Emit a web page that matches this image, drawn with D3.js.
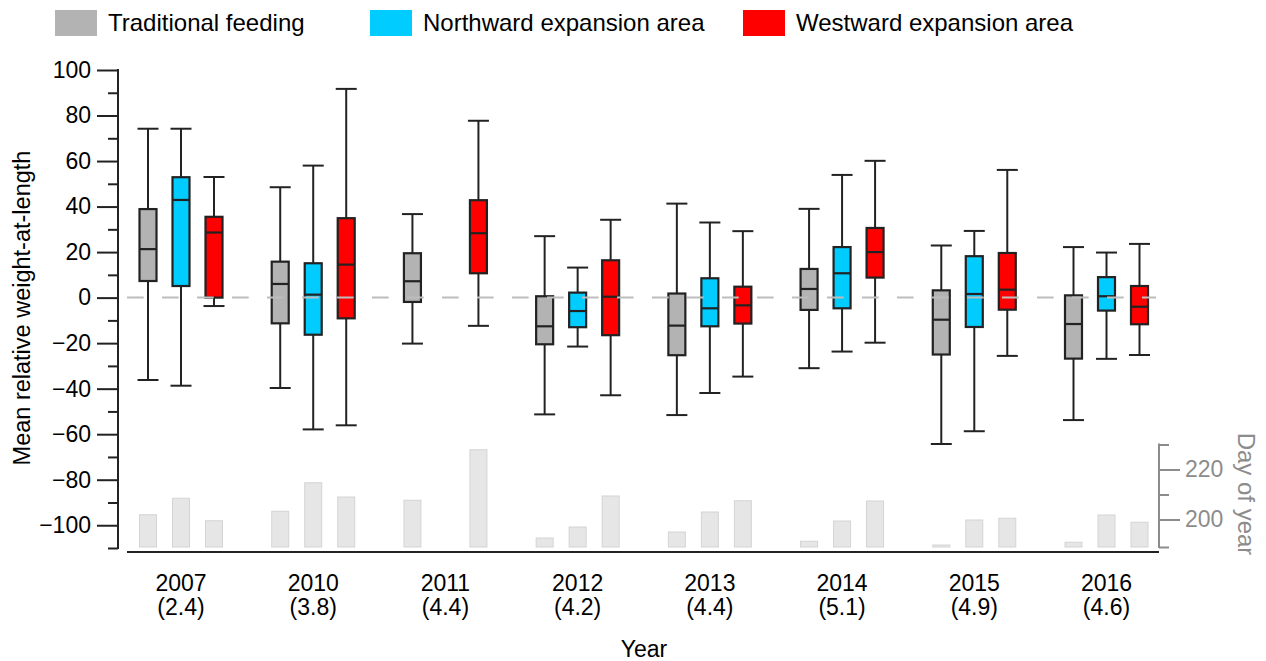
<!DOCTYPE html>
<html>
<head>
<meta charset="utf-8">
<script src="https://cdn.jsdelivr.net/npm/d3@7"></script>
<style>
  body { margin: 0; background: #fff; }
  svg text { font-family: Arial, "Liberation Sans", sans-serif; }
</style>
</head>
<body>
<div id="chart"></div>
<script>

// Data
var years = ["2007", "2010", "2011", "2012", "2013", "2014", "2015", "2016"];
var sampleLabels = ["(2.4)", "(3.8)", "(4.4)", "(4.2)", "(4.4)", "(5.1)", "(4.9)", "(4.6)"];
var areas = ["Traditional feeding", "Northward expansion area", "Westward expansion area"];
var areaColors = ["#b3b3b3", "#00ccff", "#ff0000"];

// box stats per year: [lower whisker, q1, median, q3, upper whisker]
var traditional = [
    [-36.2, 7.3, 21.3, 38.9, 74.2],
    [-39.7, -11.3, 6.0, 15.8, 48.5],
    [-20.2, -1.9, 7.2, 19.5, 36.7],
    [-51.3, -20.5, -12.6, 0.6, 27.0],
    [-51.6, -25.3, -12.3, 1.8, 41.3],
    [-31.0, -5.4, 3.8, 12.6, 39.0],
    [-64.3, -25.0, -9.7, 3.2, 22.9],
    [-53.8, -26.8, -11.6, 1.0, 22.2]
];
var northward = [
    [-38.7, 5.1, 42.9, 52.9, 74.2],
    [-57.9, -16.3, 1.3, 15.1, 58.0],
    null,
    [-21.5, -13.0, -5.9, 2.2, 13.2],
    [-41.9, -12.6, -4.7, 8.5, 33.0],
    [-23.7, -4.7, 10.7, 22.2, 53.9],
    [-58.7, -12.9, 1.6, 18.2, 29.3],
    [-26.9, -5.7, 0.6, 9.0, 19.8]
];
var westward = [
    [-3.7, 0.0, 28.6, 35.5, 53.0],
    [-56.1, -9.1, 14.5, 34.9, 91.7],
    [-12.4, 10.7, 28.3, 42.8, 77.7],
    [-42.9, -16.5, 0.4, 16.4, 34.2],
    [-34.7, -11.4, -3.4, 4.8, 29.2],
    [-19.8, 8.8, 20.0, 30.6, 60.1],
    [-25.6, -5.3, 3.5, 19.6, 56.1],
    [-25.2, -11.7, -4.0, 5.1, 23.6]
];

// mean day of year of sampling (grey bars, right axis)
var dayTraditional = [201.9, 203.3, 207.7, 192.6, 195.0, 191.3, 189.8, 190.9];
var dayNorthward = [208.5, 214.7, null, 197.0, 203.0, 199.4, 199.8, 201.8];
var dayWestward = [199.5, 209.0, 227.9, 209.4, 207.5, 207.4, 200.5, 198.9];

var boxSeries = [traditional, northward, westward];
var daySeries = [dayTraditional, dayNorthward, dayWestward];

var width = 1266, height = 661;
var ink = "#222";

var svg = d3.select("#chart").append("svg")
    .attr("width", width)
    .attr("height", height);

// Scales
var x = d3.scalePoint()
    .domain(years)
    .range([181, 1106.5]);

var sub = d3.scalePoint()
    .domain(d3.range(areas.length))
    .range([-33, 33]);

var y = d3.scaleLinear()
    .domain([-110, 100])
    .range([548, 70]);

var yDay = d3.scaleLinear()
    .domain([189, 230])
    .range([547, 444.5]);

// Day-of-year bars
var barW = 17;
daySeries.forEach(function(series, s) {
    svg.append("g").selectAll("rect")
        .data(series.map(function(v, i) { return {year: years[i], v: v}; })
            .filter(function(d) { return d.v != null; }))
        .enter().append("rect")
        .attr("x", function(d) { return x(d.year) + sub(s) - barW / 2; })
        .attr("y", function(d) { return yDay(d.v); })
        .attr("width", barW)
        .attr("height", function(d) { return yDay(189) - yDay(d.v); })
        .attr("fill", "#e6e6e6")
        .attr("stroke", "#d4d4d4")
        .attr("stroke-width", 1);
});

// Boxes
var boxW = 17, capW = 21;
boxSeries.forEach(function(series, s) {
    var g = svg.append("g").selectAll("g")
        .data(series.map(function(b, i) { return {year: years[i], b: b}; })
            .filter(function(d) { return d.b != null; }))
        .enter().append("g")
        .attr("transform", function(d) { return "translate(" + (x(d.year) + sub(s)) + ",0)"; });

    g.append("line")
        .attr("x1", 0).attr("x2", 0)
        .attr("y1", function(d) { return y(d.b[0]); })
        .attr("y2", function(d) { return y(d.b[4]); })
        .attr("stroke", ink).attr("stroke-width", 2);

    g.selectAll(".cap")
        .data(function(d) { return [d.b[0], d.b[4]]; })
        .enter().append("line")
        .attr("class", "cap")
        .attr("x1", -capW / 2).attr("x2", capW / 2)
        .attr("y1", function(v) { return y(v); })
        .attr("y2", function(v) { return y(v); })
        .attr("stroke", ink).attr("stroke-width", 2);

    g.append("rect")
        .attr("x", -boxW / 2)
        .attr("width", boxW)
        .attr("y", function(d) { return y(d.b[3]); })
        .attr("height", function(d) { return y(d.b[1]) - y(d.b[3]); })
        .attr("fill", areaColors[s])
        .attr("stroke", ink).attr("stroke-width", 2.2);

    g.append("line")
        .attr("x1", -boxW / 2).attr("x2", boxW / 2)
        .attr("y1", function(d) { return y(d.b[2]); })
        .attr("y2", function(d) { return y(d.b[2]); })
        .attr("stroke", ink).attr("stroke-width", 2.2);
});

// Zero reference line
svg.append("line")
    .attr("x1", 127).attr("x2", 1156)
    .attr("y1", y(0)).attr("y2", y(0))
    .attr("stroke", "#bdbdbd")
    .attr("stroke-width", 2)
    .attr("stroke-dasharray", "16.7,18.3");

// Left axis: major ticks with labels, minor ticks without
var yMajor = d3.axisLeft(y)
    .tickValues(d3.range(-100, 101, 20))
    .tickSize(21)
    .tickPadding(6)
    .tickFormat(d3.format("d"));
var yMinor = d3.axisLeft(y)
    .tickValues(d3.range(-110, 100, 20))
    .tickSize(10)
    .tickFormat("");

[yMinor, yMajor].forEach(function(ax) {
    var a = svg.append("g")
        .attr("transform", "translate(118,0)")
        .call(ax);
    a.select(".domain").remove();
    a.selectAll("line").attr("stroke", ink).attr("stroke-width", 2);
    a.selectAll("text").attr("fill", "#000").style("font-size", "23px");
});
svg.append("line")
    .attr("x1", 118).attr("x2", 118)
    .attr("y1", y(100) - 1).attr("y2", y(-110) + 1)
    .attr("stroke", ink).attr("stroke-width", 2);

// Right axis (day of year)
var grey = "#8c8c8c";
var rMajor = d3.axisRight(yDay)
    .tickValues([200, 220])
    .tickSize(21)
    .tickPadding(5)
    .tickFormat(d3.format("d"));
var rMinor = d3.axisRight(yDay)
    .tickValues([189, 210, 230])
    .tickSize(10)
    .tickFormat("");

[rMinor, rMajor].forEach(function(ax) {
    var a = svg.append("g")
        .attr("transform", "translate(1159,0)")
        .call(ax);
    a.select(".domain").remove();
    a.selectAll("line").attr("stroke", grey).attr("stroke-width", 2);
    a.selectAll("text").attr("fill", grey).style("font-size", "23px");
});
svg.append("line")
    .attr("x1", 1159).attr("x2", 1159)
    .attr("y1", yDay(230) - 1).attr("y2", yDay(189) + 1)
    .attr("stroke", grey).attr("stroke-width", 2);

svg.append("text")
    .attr("transform", "translate(1238,494) rotate(90)")
    .attr("text-anchor", "middle")
    .attr("fill", grey)
    .style("font-size", "24px")
    .text("Day of year");

// Bottom axis
svg.append("line")
    .attr("x1", 127).attr("x2", 1159)
    .attr("y1", 552).attr("y2", 552)
    .attr("stroke", ink).attr("stroke-width", 2);

var xLabels = svg.append("g");
xLabels.selectAll(".yr")
    .data(years)
    .enter().append("text")
    .attr("x", function(d) { return x(d); })
    .attr("y", 591)
    .attr("text-anchor", "middle")
    .style("font-size", "23px")
    .text(function(d) { return d; });
xLabels.selectAll(".n")
    .data(sampleLabels)
    .enter().append("text")
    .attr("x", function(d, i) { return x(years[i]); })
    .attr("y", 615)
    .attr("text-anchor", "middle")
    .style("font-size", "23px")
    .text(function(d) { return d; });

svg.append("text")
    .attr("x", 644).attr("y", 657)
    .attr("text-anchor", "middle")
    .style("font-size", "23px")
    .text("Year");

svg.append("text")
    .attr("transform", "translate(30,308) rotate(-90)")
    .attr("text-anchor", "middle")
    .style("font-size", "23.5px")
    .text("Mean relative weight-at-length");

// Legend
var legendX = [55, 370, 743];
var legend = svg.append("g").selectAll("g")
    .data(areas)
    .enter().append("g")
    .attr("transform", function(d, i) { return "translate(" + legendX[i] + ",0)"; });
legend.append("rect")
    .attr("x", 0).attr("y", 10)
    .attr("width", 42).attr("height", 26)
    .attr("fill", function(d, i) { return areaColors[i]; });
legend.append("text")
    .attr("x", 53).attr("y", 31)
    .style("font-size", "24px")
    .text(function(d) { return d; });

</script>
</body>
</html>
